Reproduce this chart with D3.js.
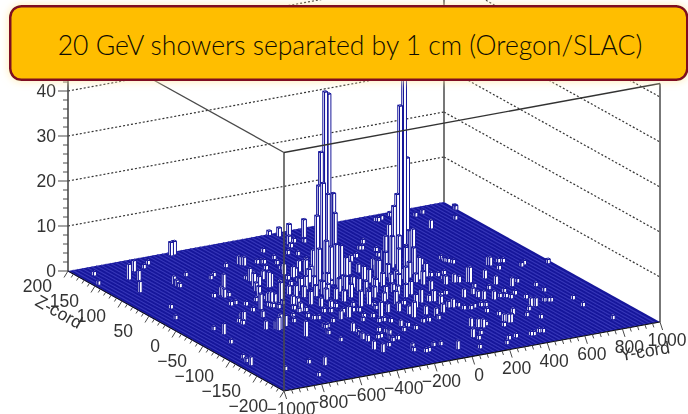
<!DOCTYPE html>
<html>
<head>
<meta charset="utf-8">
<script src="https://cdn.jsdelivr.net/npm/d3@7"></script>
<style>
html,body{margin:0;padding:0;background:#fff;overflow:hidden}
svg{display:block}
</style>
</head>
<body>
<svg id="c" width="688" height="414"></svg>
<script>
const title = "20 GeV showers separated by 1 cm (Oregon/SLAC)";
const yTicks = [-1000,-800,-600,-400,-200,0,200,400,600,800,1000];
const zTicks = [-200,-150,-100,-50,0,50,100,150,200];
const countTicks = [0,10,20,30,40];
const gridLevels = [10,20,30,40,50];

// Bins as [Y-cord, Z-cord, entries], grouped by floor region
const farLeftBins = [[-936,175,1],[-985,150,1],[-825,149,3.5],[-747,167,2.5],[-799,140,2.5],[-874,112,2.5],[-686,170,1],[-641,178,1],[-484,190,3],[-465,191,3],[-681,116,2],[-683,110,1.5],[-678,106,1],[-575,131,1],[-866,57,1],[-925,28,1],[-497,112,1],[-463,118,1],[-614,65,1],[-517,81,3.5],[-572,67,2],[-574,60,2],[-547,61,1],[-350,135,1],[-604,37,1],[-577,38,1]];
const leftBins = [[-277,136,2],[-272,132,2],[-264,131,2],[-94,155,1],[-198,130,1],[-182,129,1],[-170,127,1],[-101,133,1],[-125,119,1],[-357,95,1],[-355,89,3],[-332,89,2],[-403,61,2],[-377,64,3],[-289,88,2],[-205,111,1],[-322,65,3.5],[-307,66,3],[-475,36,1],[-513,14,3.5],[-421,36,1],[-422,26,2.5],[-406,25,2],[-350,35,4],[-145,104,1],[-544,30,1],[-679,-7,2],[-674,-11,2.5],[-693,-16,1],[-559,12,1],[-562,-7,1.5],[-459,17,1],[-450,13,1],[-438,12,1],[-434,8,1],[-577,-45,3.5],[-597,-43,2],[-535,-40,2.5],[-592,-47,3],[-852,-17,1],[-841,-32,2.5],[-878,-58,1],[-694,-9,1],[-938,-101,1],[-950,-112,1],[-956,-122,2],[-852,-150,1],[-710,-144,1],[-660,-156,2],[-763,-181,1],[-423,-103,1],[-390,-64,1],[-421,-80,1],[-527,-75,3.5],[-637,-39,2],[-471,-31,1],[-382,22,4.5],[-427,30,2],[-375,74,3],[-449,39,3]];
const backBins = [[118,181,3],[163,169,4.5],[142,161,1],[102,166,1],[54,155,1],[24,132,1],[-9,139,1],[370,132,1],[311,118,1],[323,117,1],[85,188,2],[55,196,1],[67,163,2],[581,181,1],[750,138,2],[567,56,1],[565,49,1],[574,45,1],[586,40,1],[911,149,1],[983,174,1],[985,176,1],[822,179,1],[673,187,1],[773,175,1],[615,183,1],[589,180,1]];
const peakOneBase = [[-13,89,4],[-169,90,2.5],[-154,79,2.5],[-139,80,2],[-57,94,2],[13,113,1],[-97,66,3],[-19,83,4],[-85,48,2.5],[-79,40,3],[-19,50,3],[87,78,3.5],[93,70,2.5],[91,61,3],[242,100,1],[142,61,2],[115,41,3],[114,31,3],[-189,76,1],[-163,66,1],[-220,60,1],[-142,44,2.5],[-129,36,2],[-53,44,1],[-15,33,2.5],[14,26,2.5],[153,97,2],[193,92,1.5],[-29,24,3],[-71,22,3],[-157,22,3],[-189,43,3],[-223,40,3],[-126,59,3],[-181,8,2.5],[-102,73,4],[-87,91,2.5]];
const peakOneTower = [[17,79,40],[32,78,39.5],[-14,76,27],[-36,72,20],[-34,65,21],[-29,58,19],[63,80,17],[57,75,13],[-66,65,14],[-101,49,8],[-38,49,8],[-33,41,9],[-67,72,6],[-80,43,10],[45,59,7],[43,49,5]];
const peakTwoBase = [[365,106,1],[337,92,1],[278,62,4],[410,94,4],[358,70,5],[378,68,6],[370,52,5],[527,94,4],[417,50,2.5],[451,52,1.5],[385,20,3],[405,18,1],[433,15,1],[431,5,1],[223,62,2.5],[226,35,3],[202,21,2],[243,26,2],[275,23,2.5],[310,25,3.5],[302,10,2],[315,1,3],[105,19,2],[141,15,3],[454,-8,2],[474,-10,1.5],[471,17,1],[347,-2,1],[235,60,1],[9,13,3],[15,3,3],[70,3,3],[-66,2,3],[59,-19,3],[63,-36,3],[195,-18,3],[122,-53,3],[297,-20,2.5],[243,-57,2],[407,-9,2],[247,9,4],[198,5,3],[154,27,5],[178,40,4]];
const peakTwoTower = [[434,78,48],[410,77,34],[453,79,22],[377,71,15],[343,65,13],[425,65,7],[314,58,7],[355,47,5],[239,44,5],[351,31,6],[335,16,5],[419,56,8],[323,67,9],[257,51,8],[284,35,6]];
const middleBins = [[-389,16,1],[-293,38,2],[-279,30,2.5],[-349,11,2],[-343,4,2],[-254,24,2.5],[-277,3,3],[-199,21,2.5],[-251,-7,2],[-158,13,3],[-141,4,2.5],[-123,-5,2.5],[-123,-21,1],[-91,-25,3.5],[2,-6,2],[-381,-2,1],[-382,-11,1],[-347,-12,1],[-382,-28,1],[-373,-36,1],[-353,-38,1],[-282,-23,1],[-254,-26,1],[-198,-16,1],[-206,-32,1],[-186,-34,1],[-159,-34,1],[-135,-37,1],[-158,-54,1],[-442,-21,1],[-474,-34,1],[-390,-60,1],[-374,-62,1],[-418,-77,1],[-318,-52,1],[-303,-84,2],[-290,-89,1],[-321,-108,1.5],[-315,-116,1.5],[-191,-63,1],[-45,-24,3],[-367,-10,2],[-233,-19,2],[-218,-47,2.5],[-265,-48,2]];
const nearBins = [[26,-9,2.5],[-90,-62,3.5],[37,-23,2],[-26,-52,2],[138,-5,2],[143,-12,2],[25,-55,2],[154,-23,3],[95,-40,1],[43,-67,2],[42,-77,3.5],[178,-43,3],[111,-75,2],[217,-44,1.5],[237,-46,2.5],[137,-85,2],[194,-78,2],[250,-68,1.5],[270,-70,2],[297,-70,1],[301,-37,1],[335,-34,1],[-39,-31,1],[-53,-39,1],[-122,-58,1],[-134,-73,1],[-107,-73,1],[-86,-79,1],[-75,-93,1.5],[-47,-97,1],[-37,-108,1],[42,-94,1],[73,-94,1],[127,-93,1],[-199,-96,1],[-234,-112,1],[-178,-102,1],[-209,-121,1],[-181,-125,1],[-349,-139,2],[-334,-150,2],[-267,-138,1],[-215,-127,1],[-99,-107,1],[-193,-156,1.5],[-203,-162,1],[-162,-170,1],[-143,-169,1],[-87,-158,1],[-52,-159,1],[-13,-177,2],[-304,-97,1],[-254,-113,1],[-206,-118,2]];
const rightBins = [[712,19,2],[720,18,2],[774,22,1],[794,20,1],[727,4,1],[837,1,1],[863,5,1],[966,-3,1],[510,-14,3.5],[518,-15,3.5],[606,-12,2],[607,-32,2],[657,-44,2],[706,-37,1],[753,-55,1],[749,-72,1],[386,-50,2],[443,-46,1.5],[498,-30,1],[442,-56,1.5],[451,-64,2],[543,-41,1],[491,-69,2],[582,-56,1],[530,-66,1],[554,-69,1],[566,-74,1],[611,-66,1],[626,-81,1],[589,-103,2],[609,-105,2],[677,-97,1],[693,-99,1],[705,-100,1],[459,-115,1.5],[552,-112,1],[501,-126,1],[542,-138,1],[299,-80,1],[327,-83,1],[354,-80,1],[389,-80,1],[409,-82,1],[370,-98,1],[205,-126,2],[226,-131,2],[246,-134,2],[272,-130,1],[366,-131,2],[382,-133,2],[394,-134,2],[337,-141,1],[396,-111,1],[134,-154,2],[187,-150,1],[143,-162,1],[306,-174,1],[263,-176,1],[219,-187,1],[380,-176,1],[392,-177,1],[434,-172,1],[450,-174,1],[82,-185,1],[823,-173,1],[797,-127,1],[807,-105,1]];

const yBin = 16, zBin = 3.2;

const svg = d3.select("#c");
const defs = svg.append("defs");
defs.append("filter").attr("id","soft").attr("x","-5%").attr("y","-5%").attr("width","110%").attr("height","110%")
  .append("feGaussianBlur").attr("stdDeviation",0.45);
const glow = defs.append("filter").attr("id","glow").attr("x","-5%").attr("y","-25%").attr("width","110%").attr("height","150%");
glow.append("feDropShadow").attr("dx",0).attr("dy",0).attr("stdDeviation",4).attr("flood-color","#ffe9a6").attr("flood-opacity",0.9);

// oblique projection through linear scales
const yToX = d3.scaleLinear().domain([-1000,1000]).range([284,660]);
const zToX = d3.scaleLinear().domain([-200,200]).range([0,-216]);
const yToV = d3.scaleLinear().domain([-1000,1000]).range([391,322]);
const zToV = d3.scaleLinear().domain([-200,200]).range([0,-120]);
const hToV = d3.scaleLinear().domain([0,10]).range([0,-45]);
const P = (y,z,h=0) => [yToX(y)+zToX(z), yToV(y)+zToV(z)+hToV(h)];
const poly = pts => "M"+pts.map(p=>p.join(",")).join("L")+"Z";
const seg = (g,a,b) => g.append("line").attr("x1",a[0]).attr("y1",a[1]).attr("x2",b[0]).attr("y2",b[1]);

const chart = svg.append("g").attr("filter","url(#soft)");
const yMin=-1000,yMax=1000,zMin=-200,zMax=200,hMax=53;
const axisColor="#4a4a4a", inkText="#333", barInk="#17179a";

// walls: dotted levels
const grid = chart.append("g").attr("stroke","#333").attr("stroke-width",1.2).attr("stroke-dasharray","2,2").attr("fill","none");
gridLevels.forEach(h=>{
  seg(grid,P(yMin,zMax,h),P(yMax,zMax,h));
  seg(grid,P(yMax,zMax,h),P(yMax,zMin,h));
});

// back vertical edges
seg(chart,P(yMax,zMax,0),P(yMax,zMax,hMax)).attr("stroke",axisColor).attr("stroke-width",1.5);
seg(chart,P(yMax,zMin,0),P(yMax,zMin,hMax)).attr("stroke",axisColor).attr("stroke-width",1.5);
seg(chart,P(yMin,zMax,0),P(yMin,zMax,hMax)).attr("stroke",axisColor).attr("stroke-width",1.6);

// floor
chart.append("path").attr("d",poly([P(yMin,zMin),P(yMax,zMin),P(yMax,zMax),P(yMin,zMax)])).attr("fill","#16169a");
const stripes = chart.append("g").attr("stroke","#3636b8").attr("stroke-width",1.2);
d3.range(yMin,yMax,25).forEach(y=>seg(stripes,P(y,zMin),P(y,zMax)));

// lego bars, far to near
const allBins = [...farLeftBins,...leftBins,...backBins,...peakOneBase,...peakOneTower,...peakTwoBase,...peakTwoTower,...middleBins,...nearBins,...rightBins];
allBins.sort((a,b)=>P(a[0],a[1])[1]-P(b[0],b[1])[1]);
const barG = chart.append("g").attr("fill","#fff").attr("stroke",barInk).attr("stroke-width",1).attr("stroke-linejoin","round");
barG.selectAll("path").data(allBins).join("path").attr("d",([y,z,h])=>{
  const f=P(y,z),r=P(y+yBin,z),l=P(y,z+zBin);
  const F=P(y,z,h),R=P(y+yBin,z,h),L=P(y,z+zBin,h),B=P(y+yBin,z+zBin,h);
  return poly([f,l,L,F])+poly([f,r,R,F])+poly([F,R,B,L]);
});

// front floor edge and box edges on top
seg(chart,P(yMin,zMin),P(yMax,zMin)).attr("stroke","#111").attr("stroke-width",1.2);
seg(chart,P(yMin,zMin),P(yMin,zMax)).attr("stroke","#111").attr("stroke-width",1);
seg(chart,P(yMin,zMin,0),P(yMin,zMin,hMax)).attr("stroke",axisColor).attr("stroke-width",1.5);
seg(chart,P(yMin,zMin,hMax),P(yMax,zMin,hMax)).attr("stroke","#333").attr("stroke-width",1.3);
seg(chart,P(yMin,zMin,hMax),P(yMin,zMax,hMax)).attr("stroke",axisColor).attr("stroke-width",1.3);

// axis ticks
const ticks = chart.append("g").attr("stroke",axisColor).attr("stroke-width",1);
const txt = chart.append("g").attr("fill",inkText).attr("font-family","'Liberation Sans',Arial,sans-serif").attr("font-size",17.5);
const fmt = v => (v<0?"\u2212":"")+Math.abs(v);

// count axis
d3.range(0,hMax,2).forEach(h=>{
  const p=P(yMin,zMax,h), major=h%10===0;
  seg(ticks,p,[p[0]-(major?10:5),p[1]]);
});
countTicks.forEach(h=>{
  const p=P(yMin,zMax,h);
  txt.append("text").attr("x",p[0]-12).attr("y",p[1]+6).attr("text-anchor","end").text(h);
});
// Y axis
d3.range(yMin,yMax+1,40).forEach(y=>{
  const p=P(y,zMin), major=y%200===0;
  seg(ticks,p,[p[0]+(major?2.6:1.4),p[1]+(major?8:4)]);
});
yTicks.forEach(y=>{
  const p=P(y,zMin);
  txt.append("text").attr("x",p[0]+7).attr("y",p[1]+24).attr("text-anchor","middle").text(fmt(y));
});
// Z axis
d3.range(zMin,zMax+1,10).forEach(z=>{
  const p=P(yMin,z), major=z%50===0;
  seg(ticks,p,[p[0]-(major?4:2.2),p[1]+(major?6.5:3.5)]);
});
zTicks.forEach(z=>{
  const p=P(yMin,z);
  txt.append("text").attr("x",p[0]-16).attr("y",p[1]+21).attr("text-anchor","end").text(fmt(z));
});
// axis titles
txt.append("text").attr("text-anchor","middle").attr("transform","translate(56,317) rotate(29)").text("Z-cord");
txt.append("text").attr("text-anchor","middle").attr("transform","translate(646,357) rotate(-9)").text("Y-cord");

// banner
const banner = svg.append("g");
banner.append("rect").attr("x",10.25).attr("y",6.25).attr("width",677).attr("height",73.5).attr("rx",11)
  .attr("fill","#ffbe00").attr("stroke","#7f1020").attr("stroke-width",2.5).attr("filter","url(#glow)");
banner.append("text").attr("x",350).attr("y",54.5).attr("text-anchor","middle")
  .attr("font-family","Lato,sans-serif").attr("font-weight",300).attr("font-size",26.5).attr("fill","#0f0c02").text(title);
</script>
</body>
</html>
